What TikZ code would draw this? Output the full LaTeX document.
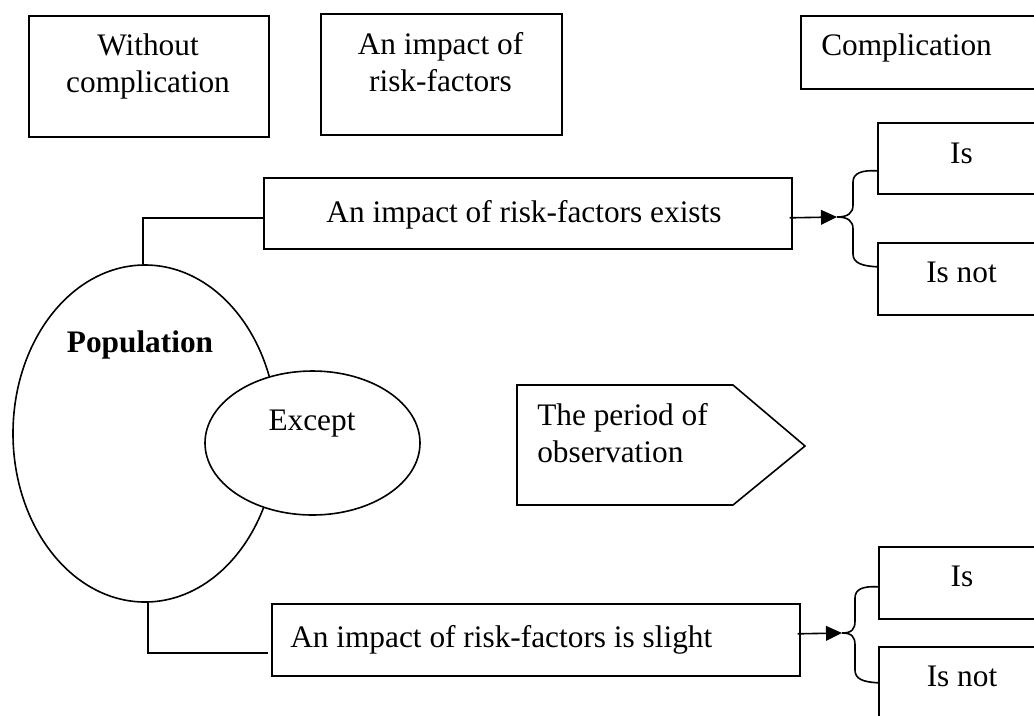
\documentclass[tikz,border=0pt]{standalone}
\usepackage{fontspec}
\setmainfont{Liberation Serif}
\usetikzlibrary{arrows.meta,shapes.geometric,calc}
\begin{document}
\begin{tikzpicture}[x=0.75pt,y=-0.75pt,
  box/.style={draw,line width=1.2pt,rectangle,inner sep=0pt,anchor=north west},
  oval/.style={draw,line width=1.2pt,ellipse,inner sep=0pt},
  txt/.style={inner sep=0pt,font=\fontsize{23.5}{27.75}\selectfont},
  conn/.style={line width=1.2pt},
  tip/.style={-{Triangle[length=12pt,width=11pt]}}]
\useasboundingbox (0,0) rectangle (1034,715);
\clip (0,0) rectangle (1034,715);
% top boxes
\node[box,minimum width=180pt,minimum height=90.75pt] (wo) at (28,15) {};
\node[box,minimum width=180.75pt,minimum height=90.75pt] (imp) at (320,13) {};
\node[box,minimum width=184.5pt,minimum height=54.75pt] (comp) at (800,15) {};
\node[txt,anchor=base] (two) at (148,55) {\begin{tabular}[t]{@{}c@{}}Without\\complication\end{tabular}};
\node[txt,anchor=base] (timp) at (440.5,54) {\begin{tabular}[t]{@{}c@{}}An impact of\\risk-factors\end{tabular}};
\node[txt,anchor=base west] (tcomp) at (821,55) {Complication};
% middle boxes
\node[box,minimum width=396pt,minimum height=53.25pt] (ex) at (263,177) {};
\node[txt,anchor=base] (tex) at (524,222) {An impact of risk-factors exists};
\node[box,minimum width=126.75pt,minimum height=53.25pt] (isA) at (877,122) {};
\node[box,minimum width=126.75pt,minimum height=54pt] (isN) at (877,242) {};
\node[txt,anchor=base] (tisA) at (961.5,163) {Is};
\node[txt,anchor=base] (tisN) at (961.5,282) {Is not};
% lower boxes
\node[box,minimum width=396pt,minimum height=54pt] (sl) at (271,603) {};
\node[txt,anchor=base west] (tsl) at (290,647) {An impact of risk-factors is slight};
\node[box,minimum width=126pt,minimum height=54pt] (isA2) at (878,546) {};
\node[box,minimum width=126pt,minimum height=54pt] (isN2) at (878,646) {};
\node[txt,anchor=base] (tisA2) at (962,586) {Is};
\node[txt,anchor=base] (tisN2) at (962,686) {Is not};
% ellipses
\node[oval,minimum width=198pt,minimum height=252.75pt] (pop) at (145,433.5) {};
\node[oval,fill=white,minimum width=161.25pt,minimum height=108pt] (exc) at (312.5,443) {};
\node[txt,anchor=base,font=\fontsize{23.5}{27.75}\selectfont\bfseries] (tpop) at (140,352) {Population};
\node[txt,anchor=base] (texc) at (312,430) {Except};
% period of observation
\draw[line width=1.2pt] (517,385) coordinate (per) -- (733,385) -- (805,446) -- (733,505) -- (517,505) -- cycle;
\node[txt,anchor=base west] (tper) at (537,425) {\begin{tabular}[t]{@{}l@{}}The period of\\observation\end{tabular}};
% connectors
\draw[conn] ([xshift=-1.5pt]pop.north) |- ([yshift=-3.375pt]ex.west);
\draw[conn] ([xshift=2.25pt]pop.south) |- ([yshift=-9.75pt,xshift=-2.25pt]sl.west);
\coordinate (b1) at (837,217);
\coordinate (b2) at (842,633);
\draw[conn,tip] ([xshift=-2.25pt,yshift=-3.375pt]ex.east) -- (b1);
\draw[conn,tip] ([xshift=-2.25pt,yshift=4.5pt]sl.east) -- (b2);
% braces
\draw[conn] (b1) .. controls +(11,0) and +(0,8) .. (853,205) -- (853,182)
  .. controls (853,173) and (862,170) .. ([yshift=-9.375pt]isA.west);
\draw[conn] (b1) .. controls +(11,0) and +(0,-8) .. (853,229) -- (853,254)
  .. controls (853,263) and (862,266) .. ([yshift=9pt]isN.west);
\draw[conn] (b2) .. controls +(10,0) and +(0,8) .. (855,621) -- (855,598)
  .. controls (855,589) and (863,586) .. ([yshift=-3pt]isA2.west);
\draw[conn] (b2) .. controls +(10,0) and +(0,-8) .. (855,645) -- (855,670)
  .. controls (855,679) and (863,682) .. (isN2.west);
\end{tikzpicture}
\end{document}
